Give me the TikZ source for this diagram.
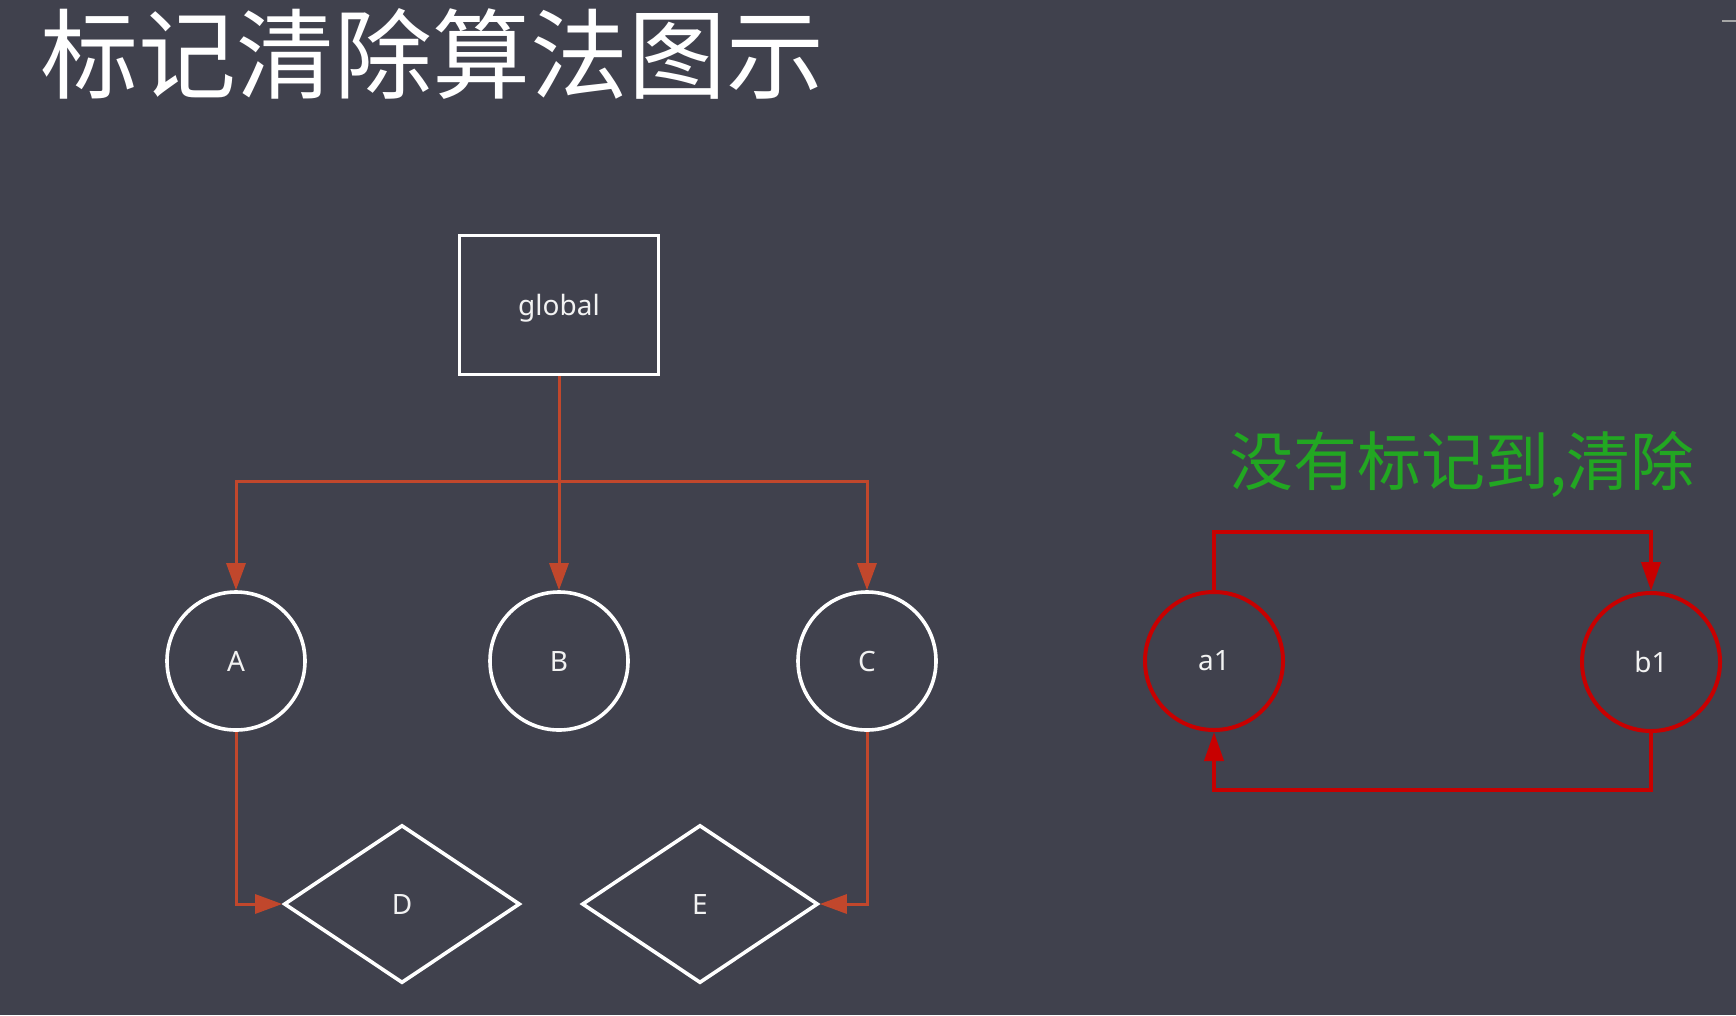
\documentclass[tikz,border=0pt]{standalone}
\usepackage{fontspec}
\setmainfont{Noto Sans}
\newfontfamily\cjk{Noto Sans CJK SC}
\usetikzlibrary{shapes.geometric,arrows.meta}
\definecolor{bgc}{HTML}{40414D}
\definecolor{orc}{HTML}{C1472C}
\definecolor{rdc}{HTML}{C80000}
\definecolor{grc}{HTML}{22A722}
\definecolor{txc}{HTML}{F2F2F2}
\begin{document}
\begin{tikzpicture}[x=1pt,y=-1pt,
  every node/.style={inner sep=0pt,text=txc},
  lbl/.style={font=\fontsize{28}{28}\selectfont},
  obj/.style={circle,draw=white,line width=3.6pt,minimum size=138pt,lbl},
  redobj/.style={circle,draw=rdc,line width=4pt,minimum size=138pt,lbl},
  leaf/.style={diamond,draw=white,line width=3.6pt,minimum width=236pt,minimum height=158pt,lbl},
  rootbox/.style={rectangle,draw=white,line width=3.6pt,minimum width=199pt,minimum height=139pt,text depth=0pt,lbl},
  oarrow/.style={draw=orc,line width=3pt,-{Triangle[width=19pt,length=27pt]}},
  oline/.style={draw=orc,line width=3pt},
  rarrow/.style={draw=rdc,line width=4pt,-{Triangle[width=19pt,length=29pt]}}
]
\fill[bgc] (0,0) rectangle (1736,1015);
\useasboundingbox (0,0) rectangle (1736,1015);
\draw[gray!70,line width=2pt] (1722,21) -- (1736,21);

\node[anchor=west,font=\cjk\fontsize{98}{98}\selectfont,text=white] (title) at (40,54) {标记清除算法图示};
\node[font=\cjk\fontsize{64}{64}\selectfont,text=grc] (note) at (1462,464) {没有标记到,清除};

\node[rootbox] (global) at (559,305) {global};
\node[obj] (A) at (236,661) {A};
\node[obj] (B) at (559,661) {B};
\node[obj] (C) at (867,661) {C};
\node[leaf] (D) at (402,904) {D};
\node[leaf] (E) at (700,904) {E};
\node[redobj] (a1) at (1214,661) {a1};
\node[redobj] (b1) at (1651,662) {b1};

\coordinate (j) at (559,481);
\coordinate (rt) at (1214,532);
\coordinate (rb) at (1214,790);

\draw[oline] (global.south) -- (j);
\draw[oarrow] (j) -| (A.north);
\draw[oarrow] (j) -- (B.north);
\draw[oarrow] (j) -| (C.north);
\draw[oarrow] (A.south) |- (D.west);
\draw[oarrow] (C.south) |- (E.east);

\draw[rarrow] (a1.north) -- (rt) -| (b1.north);
\draw[rarrow] (b1.south) |- (rb) -- (a1.south);
\end{tikzpicture}
\end{document}
